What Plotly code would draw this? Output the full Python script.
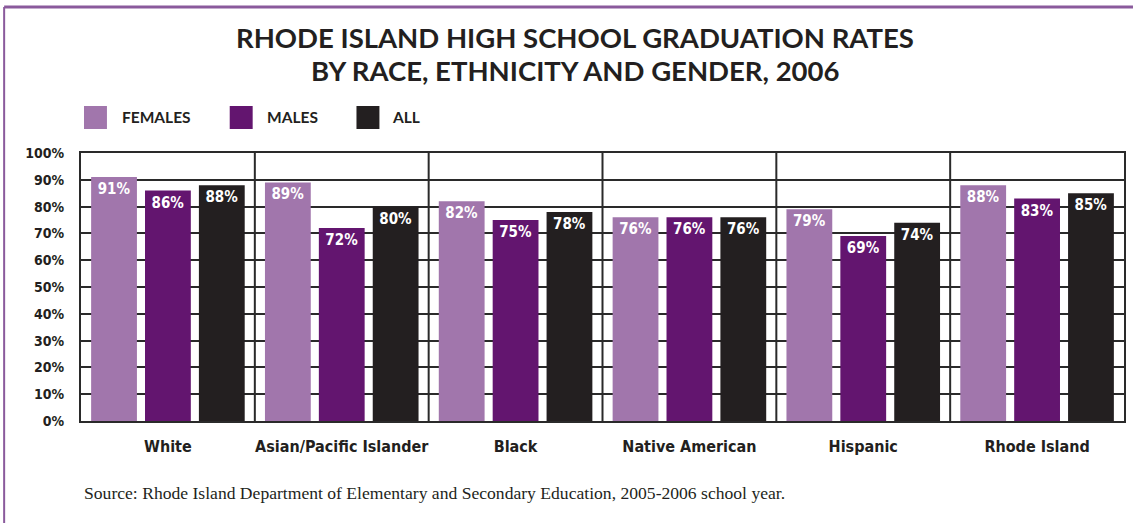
import plotly.graph_objects as go

categories = ["White", "Asian/Pacific Islander", "Black", "Native American", "Hispanic", "Rhode Island"]
series_names = ["FEMALES", "MALES", "ALL"]
females = [91, 89, 82, 76, 79, 88]
males = [86, 72, 75, 76, 69, 83]
all_students = [88, 80, 78, 76, 74, 85]
y_ticks = [0, 10, 20, 30, 40, 50, 60, 70, 80, 90, 100]
y_tick_labels = [f"{v}%" for v in y_ticks]
title_lines = ["RHODE ISLAND HIGH SCHOOL GRADUATION RATES", "BY RACE, ETHNICITY AND GENDER, 2006"]
source_text = "Source: Rhode Island Department of Elementary and Secondary Education, 2005-2006 school year."

colors = ["#a176ac", "#63156f", "#231f20"]
series_values = [females, males, all_students]

W, H = 1135, 523
L, R, T, B = 81, 1126, 153, 421

def px(x):
    return (x - L) / (R - L)

def py(y):
    return (B - y) / (B - T)

narrow = "Liberation Sans Narrow, DejaVu Sans Condensed, Arial Narrow, sans-serif"

fig = go.Figure()
for name, vals, col in zip(series_names, series_values, colors):
    fig.add_trace(go.Bar(
        x=categories, y=vals, name=name,
        marker=dict(color=col, line=dict(color=col, width=0)),
        text=[f"{v}%" for v in vals],
        textposition="inside", insidetextanchor="end",
        textfont=dict(color="white", size=15, family=narrow, weight="bold"),
        constraintext="none", textangle=0,
        showlegend=False,
    ))

shapes = []
# category separators
for i in range(1, len(categories)):
    shapes.append(dict(type="line", xref="x", yref="paper", x0=i - 0.5, x1=i - 0.5, y0=0, y1=1,
                       line=dict(color="#2a2a2a", width=2), layer="below"))
# outer purple frame (top and left)
shapes.append(dict(type="line", xref="paper", yref="paper", x0=px(4), x1=px(1135), y0=py(7), y1=py(7),
                   line=dict(color="#8a5a9c", width=3)))
shapes.append(dict(type="line", xref="paper", yref="paper", x0=px(4), x1=px(4), y0=py(7), y1=py(523),
                   line=dict(color="#8a5a9c", width=2)))

annotations = []
# custom legend
leg_sq_x = [84, 230, 357]
leg_tx_x = [120, 265, 391]
for name, col, sx, tx in zip(series_names, colors, leg_sq_x, leg_tx_x):
    shapes.append(dict(type="rect", xref="paper", yref="paper", x0=px(sx), x1=px(sx + 23),
                       y0=py(129), y1=py(106), fillcolor=col, line=dict(width=0)))
    annotations.append(dict(text=name, xref="paper", yref="paper", x=px(tx), y=py(117),
                            xanchor="left", yanchor="middle", showarrow=False,
                            font=dict(family="Lato, sans-serif", size=15.5, color="#231f20", weight="bold")))

for line, yc in zip(title_lines, [37, 71]):
    annotations.append(dict(text=line, xref="paper", yref="paper", x=px(576), y=py(yc),
                            xanchor="center", yanchor="middle", showarrow=False,
                            font=dict(family="Lato, sans-serif", size=27.5, color="#231f20", weight="bold")))
annotations.append(dict(text=source_text,
                        xref="paper", yref="paper", x=px(82), y=py(493), xanchor="left", yanchor="middle",
                        showarrow=False,
                        font=dict(family="Liberation Serif, serif", size=17.6, color="#231f20")))

fig.update_layout(
    width=W, height=H,
    margin=dict(l=L, r=W - R, t=T, b=H - B),
    paper_bgcolor="white", plot_bgcolor="white",
    barmode="group", bargap=0.07, bargroupgap=0.15,
    shapes=shapes, annotations=annotations,
    showlegend=False,
    uniformtext=dict(mode=False),
)
fig.update_xaxes(
    showline=True, mirror=True, linecolor="#2a2a2a", linewidth=2,
    showgrid=False, ticks="", ticklabelstandoff=10,
    tickfont=dict(family=narrow, size=16, color="#231f20", weight="bold"),
)
fig.update_yaxes(
    range=[0, 100], tickvals=y_ticks, ticktext=y_tick_labels,
    showline=True, mirror=True, linecolor="#2a2a2a", linewidth=2,
    showgrid=True, gridcolor="#2a2a2a", gridwidth=2, zeroline=False,
    ticks="", ticklabelstandoff=12,
    tickfont=dict(family=narrow, size=14, color="#231f20", weight="bold"),
)

fig.write_html("out.html")
